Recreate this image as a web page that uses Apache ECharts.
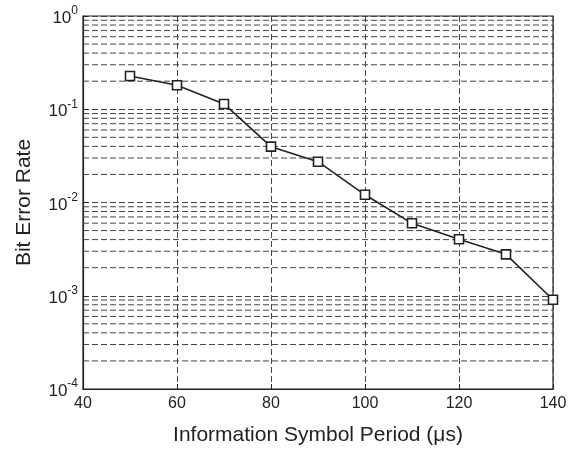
<!DOCTYPE html>
<html><head><meta charset="utf-8">
<script src="https://cdn.jsdelivr.net/npm/echarts@6/dist/echarts.min.js"></script>
<style>html,body{margin:0;padding:0;background:#fff}#c{width:573px;height:451px}</style>
</head><body><div id="c"></div>
<script>
var periods = [50, 60, 70, 80, 90, 100, 110, 120, 130, 140];
var ber = [0.227, 0.181, 0.114, 0.0397, 0.0274, 0.0121, 0.00598, 0.00403, 0.00278, 0.000907];
var decades = [1e-4, 1e-3, 1e-2, 1e-1];
var minorMultipliers = [2, 3, 4, 5, 6, 7, 8, 9];
var xRange = [40, 140];
var minorLevels = [];
decades.forEach(function (d) {
  minorMultipliers.forEach(function (k) { minorLevels.push(+(d * k).toPrecision(3)); });
});
var font = '"Liberation Sans", Arial, sans-serif';
var gridStyle = {color: '#444', type: [6, 3], width: 1};
var series = minorLevels.map(function (v) {
  return {
    type: 'line', silent: true, symbol: 'none', z: 1,
    data: [[xRange[0], v], [xRange[1], v]],
    lineStyle: gridStyle
  };
});
series.push({
  type: 'line',
  data: periods.map(function (p, i) { return [p, ber[i]]; }),
  symbol: 'rect', symbolSize: 9,
  itemStyle: {color: '#fff', borderColor: '#222', borderWidth: 1.6},
  lineStyle: {color: '#222', width: 1.6},
  z: 5
});
var chart = echarts.init(document.getElementById('c'), null, {renderer: 'canvas'});
chart.setOption({
  animation: false,
  grid: {left: 83, right: 20, top: 16, bottom: 62, outerBoundsMode: 'none', containLabel: false,
         show: true, borderColor: '#222', borderWidth: 1.2, backgroundColor: 'transparent'},
  xAxis: {
    type: 'value', min: xRange[0], max: xRange[1], interval: 20,
    name: 'Information Symbol Period (μs)', nameLocation: 'middle', nameGap: 36,
    nameTextStyle: {fontFamily: font, fontSize: 21, color: '#222'},
    axisLine: {show: true, lineStyle: {color: '#222', width: 1.2}},
    axisTick: {show: true, inside: true, length: 5, lineStyle: {color: '#222'}},
    axisLabel: {fontFamily: font, fontSize: 16, color: '#222', margin: 7},
    splitLine: {show: true, lineStyle: gridStyle}
  },
  yAxis: {
    type: 'log', logBase: 10, min: 1e-4, max: 1,
    name: 'Bit Error Rate', nameLocation: 'middle', nameGap: 48,
    nameTextStyle: {fontFamily: font, fontSize: 21, color: '#222'},
    axisLine: {show: true, lineStyle: {color: '#222', width: 1.2}},
    axisTick: {show: true, inside: true, length: 5, lineStyle: {color: '#222'}},
    axisLabel: {
      margin: 5,
      formatter: function (v) {
        var e = Math.round(Math.log10(v));
        return '{a|10}{b|' + e + '}';
      },
      rich: {
        a: {fontFamily: font, fontSize: 17, color: '#222', lineHeight: 22, verticalAlign: 'bottom'},
        b: {fontFamily: font, fontSize: 12, color: '#222', lineHeight: 22, verticalAlign: 'top', padding: [0, 0, 9, 0]}
      }
    },
    splitLine: {show: true, lineStyle: gridStyle}
  },
  series: series
});
</script></body></html>
